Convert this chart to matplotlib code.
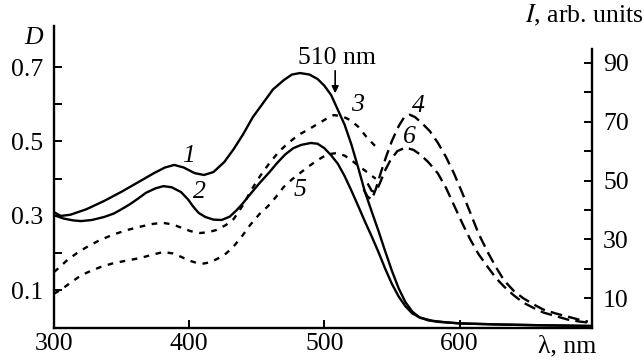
import matplotlib
matplotlib.use("Agg")
import matplotlib.pyplot as plt
from matplotlib.ticker import FixedLocator

plt.rcParams['font.family'] = ['Liberation Serif', 'DejaVu Serif']

# ---- data (wavelength nm, value) ----
wl1 = [300, 305, 312, 324, 337, 350, 362, 374, 382, 389, 396, 404, 411, 418, 426, 433, 440, 447, 455, 462,
       470, 476, 482, 489, 495, 500, 505, 510, 515, 520, 525, 530, 535, 540, 545, 550, 555, 560, 565, 570,
       577, 585, 600, 630, 660, 698]
d1 = [0.310, 0.300, 0.303, 0.318, 0.340, 0.365, 0.390, 0.415, 0.430, 0.437, 0.430, 0.415, 0.410, 0.418, 0.445,
      0.480, 0.520, 0.565, 0.605, 0.640, 0.665, 0.680, 0.684, 0.680, 0.668, 0.650, 0.625, 0.585, 0.545, 0.492,
      0.430, 0.365, 0.312, 0.260, 0.205, 0.152, 0.105, 0.068, 0.043, 0.028, 0.019, 0.015, 0.011, 0.008, 0.006, 0.004]

wl2 = [300, 307, 314, 320, 328, 337, 344, 350, 356, 362, 368, 375, 381, 387, 394, 399, 403, 407, 412, 418,
       424, 430, 435, 440, 446, 452, 459, 465, 471, 477, 483, 490, 495, 500, 505, 510, 515, 520, 525, 530,
       535, 540, 545, 550, 555, 560, 565, 571, 580, 590, 600, 630, 660, 698]
d2 = [0.302, 0.293, 0.288, 0.286, 0.289, 0.297, 0.306, 0.318, 0.331, 0.346, 0.362, 0.374, 0.380, 0.377, 0.364,
      0.345, 0.325, 0.308, 0.297, 0.290, 0.289, 0.298, 0.315, 0.335, 0.362, 0.388, 0.416, 0.442, 0.465, 0.482,
      0.491, 0.496, 0.494, 0.482, 0.463, 0.440, 0.407, 0.368, 0.327, 0.285, 0.245, 0.203, 0.158, 0.117, 0.083,
      0.057, 0.038, 0.026, 0.018, 0.014, 0.011, 0.008, 0.006, 0.004]

wl3 = [300, 305, 310, 317, 325, 334, 344, 354, 365, 374, 381, 388, 395, 401, 408, 414, 420, 427, 433, 440,
       446, 453, 460, 467, 474, 481, 488, 495, 501, 507, 513, 519, 525, 531, 537, 540]
d3 = [0.149, 0.165, 0.182, 0.200, 0.218, 0.235, 0.250, 0.262, 0.272, 0.279, 0.281, 0.277, 0.267, 0.259, 0.254,
      0.256, 0.262, 0.275, 0.292, 0.330, 0.370, 0.410, 0.445, 0.475, 0.498, 0.518, 0.532, 0.547, 0.560, 0.571,
      0.568, 0.558, 0.540, 0.513, 0.490, 0.480]

wl5 = [300, 305, 312, 318, 324, 334, 344, 354, 364, 373, 381, 388, 394, 400, 406, 411, 416, 421, 426, 432,
       439, 445, 452, 458, 464, 470, 476, 482, 488, 495, 502, 509, 515, 520, 525, 530, 535, 538]
d5 = [0.091, 0.101, 0.120, 0.135, 0.147, 0.162, 0.173, 0.180, 0.187, 0.196, 0.203, 0.199, 0.190, 0.180, 0.173,
      0.172, 0.176, 0.185, 0.195, 0.214, 0.245, 0.275, 0.305, 0.325, 0.350, 0.378, 0.398, 0.415, 0.432, 0.450,
      0.465, 0.469, 0.462, 0.450, 0.435, 0.422, 0.408, 0.400]

wl4 = [529, 532, 535, 538, 542, 546, 550, 555, 559, 563, 567, 572, 578, 584, 590, 596, 602, 608, 614, 621,
       627, 633, 640, 647, 655, 662, 671, 680, 689, 695]
i4 = [47.0, 44.5, 43.5, 47.0, 53.0, 58.5, 63.5, 68.5, 71.5, 72.4, 71.6, 69.6, 66.8, 62.8, 58.0, 52.3, 45.8, 39.0,
      32.0, 25.5, 20.5, 16.0, 12.5, 10.0, 7.8, 6.1, 4.8, 3.7, 2.6, 2.0]

wl6 = [532, 535, 538, 541, 545, 549, 554, 560, 566, 571, 577, 584, 590, 596, 602, 608, 614, 621, 627, 633,
       640, 647, 655, 662, 671, 680, 689, 695]
i6 = [49.0, 46.5, 46.0, 49.0, 53.5, 57.0, 60.0, 61.2, 60.4, 58.8, 56.2, 52.4, 47.5, 41.5, 35.5, 29.9, 25.0, 20.5,
      16.8, 13.9, 11.0, 8.5, 6.6, 5.1, 3.9, 2.7, 2.0, 1.7]

x_ticks = [300, 400, 500, 600]
d_ticks = [0.1, 0.2, 0.3, 0.4, 0.5, 0.6, 0.7]
d_labels = ['0.1', '', '0.3', '', '0.5', '', '0.7']
i_ticks = [10, 20, 30, 40, 50, 60, 70, 80, 90]
i_labels = ['10', '', '30', '', '50', '', '70', '', '90']

FS = 18.5

fig = plt.figure(figsize=(6.44, 3.62), dpi=100)
ax = fig.add_axes([54/644, 1-327.5/362, (592-54)/644, (327.5-26)/362])
ax2 = ax.twinx()

lw = 1.7
ax.plot(wl1, d1, color='black', lw=lw, solid_capstyle='round', solid_joinstyle='round')
ax.plot(wl2, d2, color='black', lw=lw, solid_capstyle='round', solid_joinstyle='round')
ax.plot(wl3, d3, color='black', lw=lw, dashes=(2.4, 2.8))
ax.plot(wl5, d5, color='black', lw=lw, dashes=(2.4, 2.8))
ax2.plot(wl4, i4, color='black', lw=lw, dashes=(5.0, 2.6))
ax2.plot(wl6, i6, color='black', lw=lw, dashes=(5.0, 2.6))

ax.set_xlim(300, 698)
ax.set_ylim(0, 301.5/372)
ax2.set_ylim(0, 301.5/2.94)

ax.xaxis.set_major_locator(FixedLocator(x_ticks))
ax.set_xticklabels([str(t) for t in x_ticks])
ax.yaxis.set_major_locator(FixedLocator(d_ticks))
ax.set_yticklabels(d_labels)
ax2.yaxis.set_major_locator(FixedLocator(i_ticks))
ax2.set_yticklabels(i_labels)

for a in (ax, ax2):
    a.spines['top'].set_visible(False)
    for s in a.spines.values():
        s.set_linewidth(1.7)
    a.tick_params(direction='in', length=6, width=1.4, labelsize=FS)
ax.spines['right'].set_visible(False)
ax2.spines['left'].set_visible(False)
ax2.spines['bottom'].set_visible(False)
ax2.spines['right'].set_bounds(0, (327.5-49)/2.94)
ax.tick_params(axis='y', pad=8)
ax.tick_params(axis='x', pad=4)
ax2.tick_params(axis='y', pad=8)

# axis titles
fig.text(34/644, 1-38/362, 'D', fontsize=FS, style='italic', ha='center', va='center')
fig.text(643/644, 1-15/362, r'$\mathit{I}$, arb. units', fontsize=FS, ha='right', va='center',
         math_fontfamily='stix')
fig.text(567/644, 1-346/362, 'λ, nm', fontsize=FS, ha='center', va='center')

# curve labels
def lab(x, y, s):
    fig.text(x/644, 1-y/362, s, fontsize=FS, style='italic', ha='center', va='center')

lab(189, 156, '1')
lab(199, 192, '2')
lab(357, 105, '3')
lab(418, 106, '4')
lab(300, 190, '5')
lab(409, 137, '6')

fig.text(337/644, 1-58/362, '510 nm', fontsize=FS, ha='center', va='center')
ax.annotate('', xy=(508, (327.5-96)/372), xytext=(508, (327.5-68)/372),
            arrowprops=dict(arrowstyle='-|>', color='black', lw=1.2, mutation_scale=10))

fig.savefig('out.png', dpi=100)
